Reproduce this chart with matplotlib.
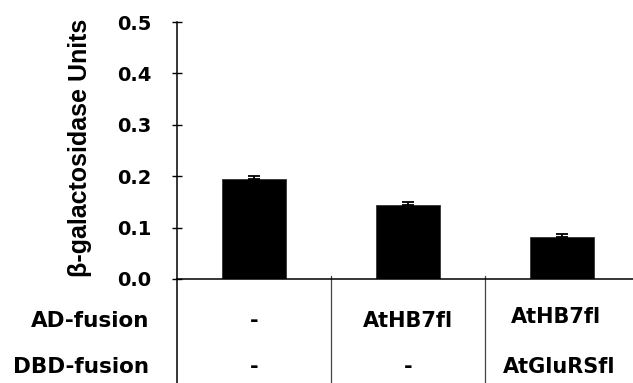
import matplotlib
matplotlib.use("Agg")
import matplotlib.pyplot as plt
from matplotlib.transforms import blended_transform_factory

# Data
groups = ["g1", "g2", "g3"]
values = [0.194, 0.143, 0.082]
err_upper = [0.007, 0.007, 0.006]
ad_fusion = ["-", "AtHB7fl", "AtHB7fl"]
dbd_fusion = ["-", "-", "AtGluRSfl"]
row_labels = ["AD-fusion", "DBD-fusion"]
yticks = [0.0, 0.1, 0.2, 0.3, 0.4, 0.5]
ytick_labels = ["0.0", "0.1", "0.2", "0.3", "0.4", "0.5"]
ylabel = "β-galactosidase Units"

W, H = 633, 383
fig = plt.figure(figsize=(W / 100, H / 100), dpi=100)
ax = fig.add_axes([177 / W, (H - 279) / H, (W - 177) / W, (279 - 22) / H])

x = list(range(len(groups)))
ax.bar(x, values, width=0.41, color="black", edgecolor="#333333", linewidth=0.6, zorder=2)
ax.errorbar(x, values, yerr=[[0] * len(values), err_upper], fmt="none",
            ecolor="black", elinewidth=1.3, capsize=4.3, capthick=1.3, zorder=3)

ax.set_xlim(-0.5, -0.5 + (W - 177) / 154)
ax.set_ylim(0, 0.5)
ax.set_yticks(yticks)
ax.set_yticklabels(ytick_labels, fontfamily="DejaVu Sans", fontweight="bold", fontsize=14)
ax.tick_params(axis="y", direction="inout", length=7, width=1.0, pad=15)
ax.set_xticks([])
for s in ["top", "right"]:
    ax.spines[s].set_visible(False)
ax.spines["left"].set_linewidth(1.1)
ax.spines["bottom"].set_linewidth(1.1)

ax.set_ylabel(ylabel, fontfamily="Liberation Sans", fontweight="bold", fontsize=18)
ax.yaxis.set_label_coords(-(177 - 92) / 456, (279 - 147.5) / 257)

# Table below the axis
trans = blended_transform_factory(ax.transData, ax.transAxes)
px = 1 / 257  # one pixel in axes-y units
bottom_y = -(H - 279 + 2) * px
ax.plot([-0.5, -0.5], [0, bottom_y], transform=trans, color="black", lw=1.1, clip_on=False)
for sep in [0.5, 1.5]:
    ax.plot([sep, sep], [0.01, bottom_y], transform=trans, color="#444444", lw=0.9, clip_on=False)

ftxt = dict(fontfamily="DejaVu Sans", fontweight="bold")
fig.text(149 / W, (H - 327) / H, row_labels[0], ha="right", va="baseline", fontsize=15.5, **ftxt)
fig.text(149 / W, (H - 373) / H, row_labels[1], ha="right", va="baseline", fontsize=15.5, **ftxt)
for i, lab in enumerate(ad_fusion):
    yb = (279 - (323 if i == 2 else 327)) * px
    ax.text(i - (0.04 if i == 2 else 0), yb, lab, transform=trans, ha="center", va="baseline",
            fontsize=15, clip_on=False, **ftxt)
for i, lab in enumerate(dbd_fusion):
    ax.text(i - (0.02 if i == 2 else 0), (279 - 373) * px, lab, transform=trans, ha="center",
            va="baseline", fontsize=15, clip_on=False, **ftxt)

fig.savefig("out.png", dpi=100)
